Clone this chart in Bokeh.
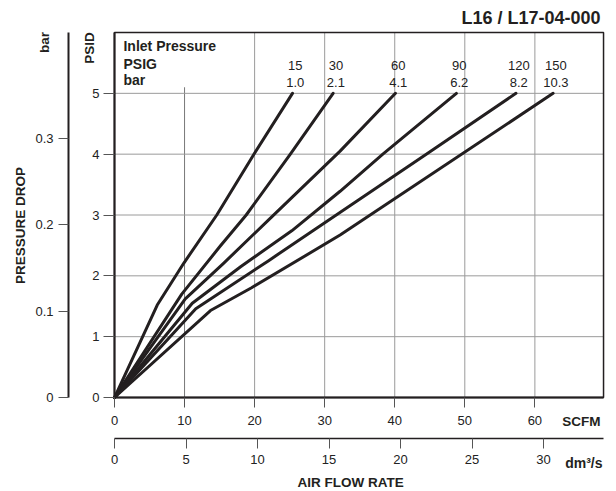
import math
from bokeh.plotting import figure
from bokeh.models import Range1d, LinearAxis, FixedTicker, Label
from bokeh.embed import file_html
from bokeh.resources import INLINE

# ---------------- data ----------------
inlet_psig = ["15", "30", "60", "90", "120", "150"]
inlet_bar = ["1.0", "2.1", "4.1", "6.2", "8.2", "10.3"]

flow_15 = [0, 6.1, 9.9, 14.6, 19.9, 25.4]
dp_15 = [0, 1.52, 2.21, 3.0, 4.0, 5.0]
flow_30 = [0, 9.6, 15.1, 18.8, 25.1, 31.2]
dp_30 = [0, 1.70, 2.49, 3.0, 4.0, 5.0]
flow_60 = [0, 10.1, 15.6, 22.0, 32.2, 40.1]
dp_60 = [0, 1.62, 2.21, 2.92, 4.05, 5.0]
flow_90 = [0, 11.1, 18.0, 25.3, 32.2, 38.3, 48.8]
dp_90 = [0, 1.55, 2.15, 2.74, 3.39, 4.0, 5.0]
flow_120 = [0, 11.6, 22.0, 44.5, 57.3]
dp_120 = [0, 1.46, 2.25, 4.0, 5.0]
flow_150 = [0, 13.7, 19.5, 32.2, 62.6]
dp_150 = [0, 1.43, 1.80, 2.67, 5.0]

scfm_ticks = [0, 10, 20, 30, 40, 50, 60]
dm3s_ticks = [0, 5, 10, 15, 20, 25, 30]
psid_ticks = [0, 1, 2, 3, 4, 5]
bar_ticks = [0, 0.1, 0.2, 0.3]
bar_tick_labels = ["0", "0.1", "0.2", "0.3"]

# chart box and the scales printed on the chart
X_MAX = 69.8            # SCFM at right edge of the box
Y_MAX = 6.0             # PSID at top edge of the box
PSID_PER_BAR = 14.19    # spacing of the bar scale
DM3S_PER_SCFM = 0.4899  # spacing of the dm3/s scale

# whole canvas in SCFM / PSID units (box drawn from 0..X_MAX, 0..Y_MAX)
XR = (-16.27, 71.65)
YR = (-1.545, 6.526)

FONT = "Liberation Sans"
INK = "#231f20"
GRID = "#9a9a9a"

p = figure(width=616, height=491, x_range=Range1d(*XR), y_range=Range1d(*YR),
           x_axis_type=None, y_axis_type=None, title=None,
           output_backend="svg", toolbar_location=None, min_border=0)
p.background_fill_color = "white"
p.border_fill_color = "white"
p.outline_line_color = None

p.extra_x_ranges = {"dm": Range1d(XR[0] * DM3S_PER_SCFM, XR[1] * DM3S_PER_SCFM)}
p.extra_y_ranges = {"bar": Range1d(YR[0] / PSID_PER_BAR, YR[1] / PSID_PER_BAR)}


def style_axis(ax, tick_out, standoff, line_width=2):
    ax.major_tick_out = tick_out
    ax.major_tick_in = 0
    ax.minor_tick_line_color = None
    ax.major_tick_line_color = "#555555"
    ax.major_tick_line_width = 1
    ax.major_label_standoff = standoff
    ax.major_label_text_font = FONT
    ax.major_label_text_font_size = "13px"
    ax.major_label_text_color = "#222222"
    ax.axis_line_color = INK
    ax.axis_line_width = line_width


# grid (under everything)
p.segment(x0=scfm_ticks[2:], y0=[0] * 5, x1=scfm_ticks[2:], y1=[Y_MAX] * 5,
          line_color=GRID, line_width=1)
p.segment(x0=[scfm_ticks[1]], y0=[0], x1=[scfm_ticks[1]], y1=[5.1],
          line_color="#777777", line_width=1)
p.segment(x0=[0] * 5, y0=psid_ticks[1:], x1=[X_MAX] * 5, y1=psid_ticks[1:],
          line_color=GRID, line_width=1)
# box
p.quad(left=[0], right=[X_MAX], bottom=[0], top=[Y_MAX], fill_color=None,
       line_color=INK, line_width=1.5)

# axes
scfm_ax = LinearAxis(ticker=FixedTicker(ticks=scfm_ticks), fixed_location=0,
                     bounds=(0, X_MAX))
style_axis(scfm_ax, 10, 8)
p.add_layout(scfm_ax, "below")

dm_ax = LinearAxis(x_range_name="dm", ticker=FixedTicker(ticks=dm3s_ticks),
                   fixed_location=-0.669, bounds=(0, X_MAX * DM3S_PER_SCFM))
style_axis(dm_ax, 10, 7, line_width=1.5)
p.add_layout(dm_ax, "below")

psid_ax = LinearAxis(ticker=FixedTicker(ticks=psid_ticks), fixed_location=0,
                     bounds=(0, Y_MAX))
style_axis(psid_ax, 11, 4)
p.add_layout(psid_ax, "left")

bar_ax = LinearAxis(y_range_name="bar", ticker=FixedTicker(ticks=bar_ticks),
                    fixed_location=-6.566, bounds=(0, Y_MAX / PSID_PER_BAR))
style_axis(bar_ax, 10, 5)
bar_ax.major_label_overrides = {t: s for t, s in zip(bar_ticks, bar_tick_labels)}
p.add_layout(bar_ax, "left")

# curves
curves = [(flow_15, dp_15), (flow_30, dp_30), (flow_60, dp_60),
          (flow_90, dp_90), (flow_120, dp_120), (flow_150, dp_150)]
for (fx, fy), psig, bar in zip(curves, inlet_psig, inlet_bar):
    p.line(fx, fy, line_color=INK, line_width=3, line_join="round", line_cap="round")
    p.add_layout(Label(x=fx[-1] + 0.4, y=5.453, text=psig, text_align="center",
                       text_baseline="middle", text_font=FONT,
                       text_font_size="13px", text_color="#222222"))
    p.add_layout(Label(x=fx[-1] + 0.4, y=5.182, text=bar, text_align="center",
                       text_baseline="middle", text_font=FONT,
                       text_font_size="13px", text_color="#222222"))


def lab(x, y, text, size="13.5px", align="left", angle=0.0, bold=True):
    p.add_layout(Label(x=x, y=y, text=text, text_align=align, text_baseline="middle",
                       angle=angle, text_font=FONT, text_font_size=size,
                       text_font_style="bold" if bold else "normal",
                       text_color=INK))


# legend block
lab(1.28, 5.775, "Inlet Pressure", size="14px")
lab(1.28, 5.478, "PSIG", size="14px")
lab(1.28, 5.222, "bar", size="14px")

# title
lab(69.37, 6.239, "L16 / L17-04-000", size="18px", align="right")

# axis titles
lab(-3.611, 5.746, "PSID", align="center", angle=math.pi / 2)
lab(-10.06, 5.836, "bar", align="center", angle=math.pi / 2)
lab(-13.35, 2.828, "PRESSURE DROP", align="center", angle=math.pi / 2)
lab(69.37, -0.398, "SCFM", align="right")
lab(69.65, -1.072, "dm³/s", size="14px", align="right")
lab(33.69, -1.396, "AIR FLOW RATE", align="center")

open("out.html", "w").write(file_html(p, INLINE))
